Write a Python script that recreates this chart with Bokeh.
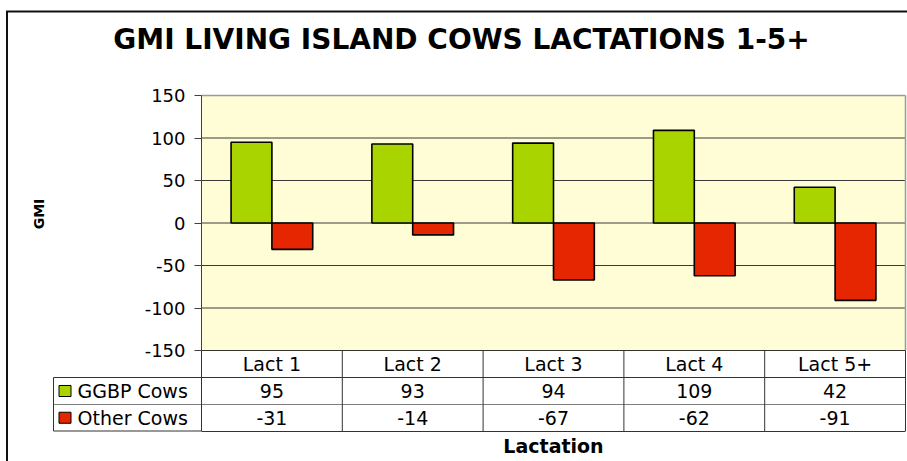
import math
from bokeh.plotting import figure
from bokeh.models import Range1d, FixedTicker, ColumnDataSource
from bokeh.core.properties import value
from bokeh.transform import dodge
from bokeh.embed import file_html
from bokeh.resources import INLINE

# ---------------- data ----------------
TITLE = "GMI LIVING ISLAND COWS LACTATIONS 1-5+"
Y_LABEL = "GMI"
X_LABEL = "Lactation"
CATEGORIES = ["Lact 1", "Lact 2", "Lact 3", "Lact 4", "Lact 5+"]
SERIES = ["GGBP Cows", "Other Cows"]
GGBP = [95, 93, 94, 109, 42]
OTHER = [-31, -14, -67, -62, -91]
Y_TICKS = [-150, -100, -50, 0, 50, 100, 150]

# ---------------- styles / layout ----------------
COLORS = ["#AAD400", "#E52600"]
PLOT_BG = "#FFFDD5"
FONT = "DejaVu Sans"
W, H = 907, 461
PX0, PY0 = 0, 0                       # page offset of the canvas
PLOT_L, PLOT_R, PLOT_T, PLOT_B = 201, 905, 95, 350
ROW_H = 27
LEG_L = 53
BAR_W = 0.29

n = len(CATEGORIES)
y_min, y_max = Y_TICKS[0], Y_TICKS[-1]
kx = (PLOT_R - PLOT_L) / n
ky = (PLOT_B - PLOT_T) / (y_max - y_min)

p = figure(
    width=W, height=H,
    x_range=Range1d((PX0 - PLOT_L) / kx, (PX0 + W - PLOT_L) / kx),
    y_range=Range1d(y_min - (PY0 + H - PLOT_B) / ky, y_max + (PLOT_T - PY0) / ky),
    output_backend="svg", toolbar_location=None, tools="",
    min_border=0, outline_line_color=None,
    background_fill_color="white", border_fill_color="white",
)
p.extra_x_ranges = {"px": Range1d(PX0, PX0 + W)}
p.extra_y_ranges = {"px": Range1d(PY0 + H, PY0)}
p.grid.visible = False

# plot area background
p.quad(left=[0], right=[n], bottom=[y_min], top=[y_max], fill_color=PLOT_BG, line_color=None)

# grid lines (inner ticks), top / right border of plot area
inner = Y_TICKS[1:-1]
p.multi_line(xs=[[0, n] for _ in inner], ys=[[t, t] for t in inner], line_color="#3a3a3a", line_width=1)
p.multi_line(xs=[[0, n], [n, n]], ys=[[y_max, y_max], [y_min, y_max]], line_color="#9a9a9a", line_width=1.5)

# bars
xs = [i + 0.5 for i in range(n)]
src = ColumnDataSource(dict(x=xs, ggbp=GGBP, other=OTHER, cat=CATEGORIES,
                            ggbp_t=[str(v) for v in GGBP], other_t=[str(v) for v in OTHER]))
p.vbar(x=dodge("x", -BAR_W / 2), top="ggbp", bottom=0, width=BAR_W, source=src,
       fill_color=COLORS[0], line_color="black", line_width=1.6)
p.vbar(x=dodge("x", BAR_W / 2), top="other", bottom=0, width=BAR_W, source=src,
       fill_color=COLORS[1], line_color="black", line_width=1.6)

# ---------------- data table ----------------
r0 = PLOT_B                      # table top
rows = [r0 + ROW_H * k for k in range(4)]
rows[-1] = rows[-1] - 0.5
centers = [(rows[k] + rows[k + 1]) / 2 for k in range(3)]

# horizontal lines across value columns (data x) and legend column (px x)
p.segment(x0=[0] * 3, x1=[n] * 3, y0=[rows[0], rows[1], rows[2]], y1=[rows[0], rows[1], rows[2]],
          y_range_name="px", line_color=["#333333", "#333333", "#808080"], line_width=1)
p.segment(x0=[LEG_L] * 3, x1=[PLOT_L] * 3, y0=[rows[1], rows[2], rows[3]], y1=[rows[1], rows[2], rows[3]],
          x_range_name="px", y_range_name="px", line_color=["#333333", "#808080", "#333333"], line_width=1)
# vertical separators
p.segment(x0=list(range(n + 1)), x1=list(range(n + 1)), y0=[rows[0]] * (n + 1), y1=[rows[3]] * (n + 1),
          y_range_name="px", line_color="#333333", line_width=1)
p.segment(x0=[LEG_L], x1=[LEG_L], y0=[rows[1]], y1=[rows[3]],
          x_range_name="px", y_range_name="px", line_color="#333333", line_width=1)

tfont = dict(text_font=value(FONT), text_font_size="19px", text_color="black")
p.text(x="x", y=centers[0], text="cat", source=src, y_range_name="px",
       text_align="center", text_baseline="middle", **tfont)
p.text(x="x", y=centers[1], text="ggbp_t", source=src, y_range_name="px",
       text_align="center", text_baseline="middle", **tfont)
p.text(x="x", y=centers[2], text="other_t", source=src, y_range_name="px",
       text_align="center", text_baseline="middle", **tfont)

# legend column
p.rect(x=[LEG_L + 11.5] * 2, y=centers[1:], width=12, height=11, fill_color=COLORS,
       line_color="black", line_width=1, x_range_name="px", y_range_name="px")
p.text(x=[LEG_L + 24] * 2, y=centers[1:], text=SERIES, x_range_name="px", y_range_name="px",
       text_align="left", text_baseline="middle", **tfont)

# ---------------- axes ----------------
yax = p.yaxis[0]
yax.fixed_location = 0
yax.bounds = (y_min, y_max)
yax.ticker = FixedTicker(ticks=Y_TICKS)
yax.major_label_overrides = {t: str(t) for t in Y_TICKS}
yax.major_tick_out = 7
yax.major_tick_in = 0
yax.minor_tick_out = 0
yax.minor_tick_in = 0
yax.axis_line_color = "#404040"
yax.major_tick_line_color = "#404040"
yax.major_label_text_font = FONT
yax.major_label_text_font_size = "18px"
yax.major_label_text_color = "black"
yax.major_label_standoff = 9

xax = p.xaxis[0]
xax.y_range_name = "px"
xax.fixed_location = rows[3]
xax.bounds = (0, n)
xax.ticker = FixedTicker(ticks=[])
xax.major_tick_out = 0
xax.major_tick_in = 0
xax.minor_tick_out = 0
xax.minor_tick_in = 0
xax.axis_line_color = "#333333"
xax.axis_label = X_LABEL
xax.axis_label_text_font = FONT
xax.axis_label_text_font_style = "bold"
xax.axis_label_text_font_size = "19px"
xax.axis_label_text_color = "black"
xax.axis_label_standoff = 3

# y-axis title
p.text(x=[38], y=[213.5], text=[Y_LABEL], angle=math.pi / 2, x_range_name="px", y_range_name="px",
       text_font=value(FONT), text_font_style="bold", text_font_size="14px",
       text_align="center", text_baseline="middle", text_color="black")

# chart title
p.text(x=[461], y=[39], text=[TITLE], x_range_name="px", y_range_name="px",
       text_font=value(FONT), text_font_style="bold", text_font_size="28px",
       text_align="center", text_baseline="middle", text_color="black")

# outer chart border (left and top visible)
p.segment(x0=[6.5, 5.5], x1=[6.5, PX0 + W], y0=[11, 11], y1=[PY0 + H, 11],
          x_range_name="px", y_range_name="px", line_color="#111111", line_width=2)

open("out.html", "w").write(file_html(p, INLINE))
